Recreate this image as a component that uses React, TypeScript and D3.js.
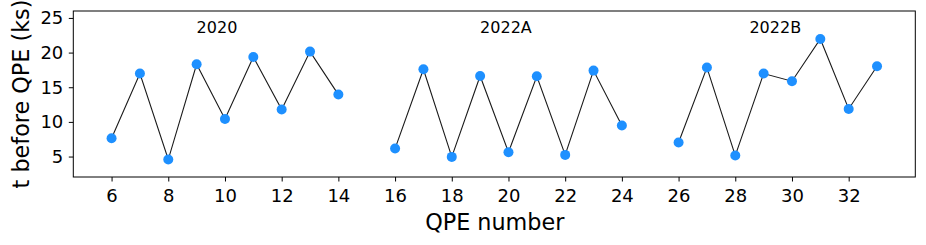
import { useEffect, useRef } from "react";
import * as d3 from "d3";

// QPE numbers and time before each QPE (ks), one list per campaign
const qpe2020 = [6, 7, 8, 9, 10, 11, 12, 13, 14];
const t2020 = [7.64, 16.97, 4.57, 18.32, 10.43, 19.37, 11.78, 20.14, 13.94];

const qpe2022A = [16, 17, 18, 19, 20, 21, 22, 23, 24];
const t2022A = [6.15, 17.6, 4.95, 16.63, 5.63, 16.58, 5.24, 17.4, 9.47];

const qpe2022B = [26, 27, 28, 29, 30, 31, 32, 33];
const t2022B = [7.02, 17.84, 5.14, 16.97, 15.87, 21.97, 11.87, 18.03];

const groupNames = ["2020", "2022A", "2022B"];
const groupLabelX = [9, 19, 28.5];

const xTicks = [6, 8, 10, 12, 14, 16, 18, 20, 22, 24, 26, 28, 30, 32];
const yTicks = [5, 10, 15, 20, 25];

const App = () => {
  const svgRef = useRef<SVGSVGElement | null>(null);

  useEffect(() => {
    if (!svgRef.current) return;
    const width = 926;
    const height = 245;
    const left = 73.3;
    const right = 915.3;
    const top = 11;
    const bottom = 177;
    const font = "DejaVu Sans, sans-serif";

    const svg = d3.select(svgRef.current);
    svg.selectAll("*").remove();
    svg.attr("width", width).attr("height", height);

    const x = d3.scaleLinear().domain([4.65, 34.35]).range([left, right]);
    const y = d3.scaleLinear().domain([2.05, 26]).range([bottom, top]);

    const groups = [
      { xs: qpe2020, ys: t2020 },
      { xs: qpe2022A, ys: t2022A },
      { xs: qpe2022B, ys: t2022B },
    ];

    const line = d3
      .line<[number, number]>()
      .x((d) => x(d[0]))
      .y((d) => y(d[1]));

    groups.forEach((g) => {
      const pts: [number, number][] = g.xs.map((q, i) => [q, g.ys[i]]);
      svg
        .append("path")
        .attr("d", line(pts))
        .attr("fill", "none")
        .attr("stroke", "#1a1a1a")
        .attr("stroke-width", 1.1);
      svg
        .append("g")
        .selectAll("circle")
        .data(pts)
        .enter()
        .append("circle")
        .attr("cx", (d) => x(d[0]))
        .attr("cy", (d) => y(d[1]))
        .attr("r", 5)
        .attr("fill", "#1e90ff");
    });

    // group labels
    groupNames.forEach((name, i) => {
      svg
        .append("text")
        .attr("x", x(groupLabelX[i]))
        .attr("y", y(22.8))
        .attr("font-family", font)
        .attr("font-size", 16)
        .attr("fill", "#000")
        .text(name);
    });

    // axes
    const xAxis = svg
      .append("g")
      .attr("transform", `translate(0,${bottom})`)
      .call(
        d3
          .axisBottom(x)
          .tickValues(xTicks)
          .tickSize(4.5)
          .tickPadding(8)
          .tickFormat(d3.format("d"))
      );
    const yAxis = svg
      .append("g")
      .attr("transform", `translate(${left},0)`)
      .call(
        d3
          .axisLeft(y)
          .tickValues(yTicks)
          .tickSize(4.5)
          .tickPadding(5.5)
          .tickFormat(d3.format("d"))
      );
    [xAxis, yAxis].forEach((a) => {
      a.select(".domain").remove();
      a.selectAll("line").attr("stroke", "#000").attr("stroke-width", 1);
      a.selectAll("text")
        .attr("font-family", font)
        .attr("font-size", 18)
        .attr("fill", "#000");
    });

    // frame
    svg
      .append("rect")
      .attr("x", left)
      .attr("y", top)
      .attr("width", right - left)
      .attr("height", bottom - top)
      .attr("fill", "none")
      .attr("stroke", "#000")
      .attr("stroke-width", 1);

    // axis labels
    svg
      .append("text")
      .attr("x", (left + right) / 2 + 0.5)
      .attr("y", 229.5)
      .attr("text-anchor", "middle")
      .attr("font-family", font)
      .attr("font-size", 22.3)
      .attr("fill", "#000")
      .text("QPE number");

    svg
      .append("text")
      .attr("transform", `translate(28.5,${(top + bottom) / 2}) rotate(-90)`)
      .attr("text-anchor", "middle")
      .attr("font-family", font)
      .attr("font-size", 22.3)
      .attr("fill", "#000")
      .text("t before QPE (ks)");
  }, []);

  return (
    <svg
      ref={svgRef}
      style={{ position: "absolute", left: 0, top: 0, display: "block", background: "#fff" }}
    ></svg>
  );
};

export default App;
